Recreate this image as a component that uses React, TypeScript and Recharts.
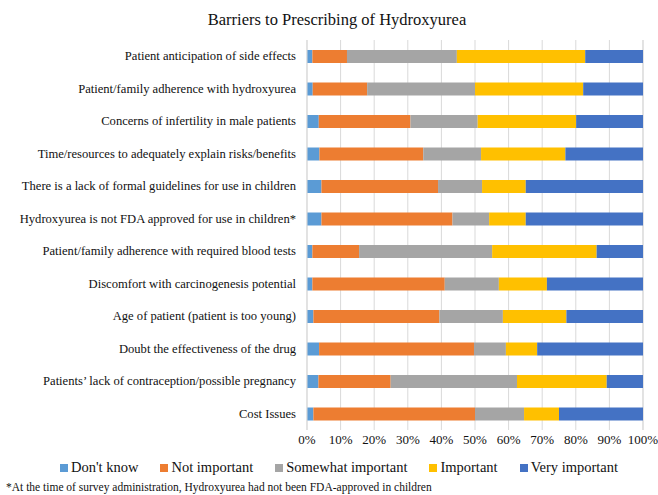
import { BarChart, Bar, XAxis, YAxis, CartesianGrid } from "recharts";

const CATEGORIES = [
  "Patient anticipation of side effects",
  "Patient/family adherence with hydroxyurea",
  "Concerns of infertility in male patients",
  "Time/resources to adequately explain risks/benefits",
  "There is a lack of formal guidelines for use in children",
  "Hydroxyurea is not FDA approved for use in children*",
  "Patient/family adherence with required blood tests",
  "Discomfort with carcinogenesis potential",
  "Age of patient (patient is too young)",
  "Doubt the effectiveness of the drug",
  "Patients\u2019 lack of contraception/possible pregnancy",
  "Cost Issues",
];

const DONT_KNOW = [1.6, 1.7, 3.5, 3.7, 4.3, 4.3, 1.6, 1.6, 1.9, 3.6, 3.4, 1.9];
const NOT_IMPORTANT = [10.3, 16.2, 27.3, 30.9, 34.7, 39.0, 13.9, 39.4, 37.5, 46.1, 21.5, 48.1];
const SOMEWHAT = [32.7, 32.1, 20.0, 17.2, 13.1, 10.9, 39.6, 16.1, 18.9, 9.5, 37.6, 14.6];
const IMPORTANT = [38.2, 32.2, 29.3, 25.1, 13.0, 10.9, 31.1, 14.3, 18.9, 9.3, 26.7, 10.4];
const VERY_IMPORTANT = [17.2, 17.8, 19.9, 23.1, 34.9, 34.9, 13.8, 28.6, 22.8, 31.5, 10.8, 25.0];

const X_TICKS = [0, 10, 20, 30, 40, 50, 60, 70, 80, 90, 100];

const SERIES = [
  { key: "dk", name: "Don't know", color: "#5B9BD5", values: DONT_KNOW },
  { key: "ni", name: "Not important", color: "#ED7D31", values: NOT_IMPORTANT },
  { key: "si", name: "Somewhat important", color: "#A5A5A5", values: SOMEWHAT },
  { key: "im", name: "Important", color: "#FFC000", values: IMPORTANT },
  { key: "vi", name: "Very important", color: "#4472C4", values: VERY_IMPORTANT },
];

const data = CATEGORIES.map((name, i) => {
  const row: Record<string, string | number> = { name };
  SERIES.forEach((s) => {
    row[s.key] = s.values[i];
  });
  return row;
});

const FONT = "Liberation Serif, Tinos, Times New Roman, DejaVu Serif, serif";

// plain svg text so long labels stay on one line
function CategoryTick(props: any) {
  const { x, y, payload } = props;
  return (
    <text
      x={x}
      y={y}
      dy={4}
      textAnchor="end"
      fill="#111"
      fontSize={12.6}
      fontFamily={FONT}
    >
      {payload.value}
    </text>
  );
}

export default function App() {
  return (
    <div
      style={{
        position: "absolute",
        left: 0,
        top: 0,
        width: 658,
        height: 495,
        background: "#fff",
        fontFamily: FONT,
        color: "#111",
      }}
    >
      <div
        style={{
          position: "absolute",
          top: 10,
          left: 8,
          width: 658,
          textAlign: "center",
          fontSize: 16.5,
        }}
      >
        Barriers to Prescribing of Hydroxyurea
      </div>

      <BarChart
        width={658}
        height={495}
        data={data}
        layout="vertical"
        margin={{ top: 40, right: 15, bottom: 40, left: 0 }}
        barSize={13}
      >
        <CartesianGrid horizontal={false} stroke="#d9d9d9" />
        <XAxis
          type="number"
          domain={[0, 100]}
          ticks={X_TICKS}
          tickFormatter={(v) => `${v}%`}
          axisLine={false}
          tickLine={false}
          tickSize={0}
          tickMargin={5}
          height={25}
          interval={0}
          tick={{ fill: "#111", fontSize: 13, fontFamily: FONT }}
        />
        <YAxis
          type="category"
          dataKey="name"
          width={307}
          axisLine={{ stroke: "#d9d9d9" }}
          tickLine={false}
          tickSize={0}
          tickMargin={11}
          interval={0}
          tick={<CategoryTick />}
        />
        {SERIES.map((s) => (
          <Bar
            key={s.key}
            dataKey={s.key}
            name={s.name}
            stackId="a"
            fill={s.color}
            isAnimationActive={false}
          />
        ))}
      </BarChart>

      <div
        style={{
          position: "absolute",
          top: 459,
          left: 0,
          width: 658,
          display: "flex",
          justifyContent: "center",
          fontSize: 14.5,
          paddingLeft: 20,
          boxSizing: "border-box",
        }}
      >
        {SERIES.map((s) => (
          <span
            key={s.key}
            style={{ display: "inline-flex", alignItems: "center", margin: "0 11px" }}
          >
            <span
              style={{
                display: "inline-block",
                width: 8,
                height: 8,
                background: s.color,
                marginRight: 3,
              }}
            />
            {s.name}
          </span>
        ))}
      </div>

      <div
        style={{
          position: "absolute",
          top: 481,
          left: 6,
          fontSize: 11.5,
          whiteSpace: "nowrap",
        }}
      >
        *At the time of survey administration, Hydroxyurea had not been FDA-approved in children
      </div>
    </div>
  );
}
